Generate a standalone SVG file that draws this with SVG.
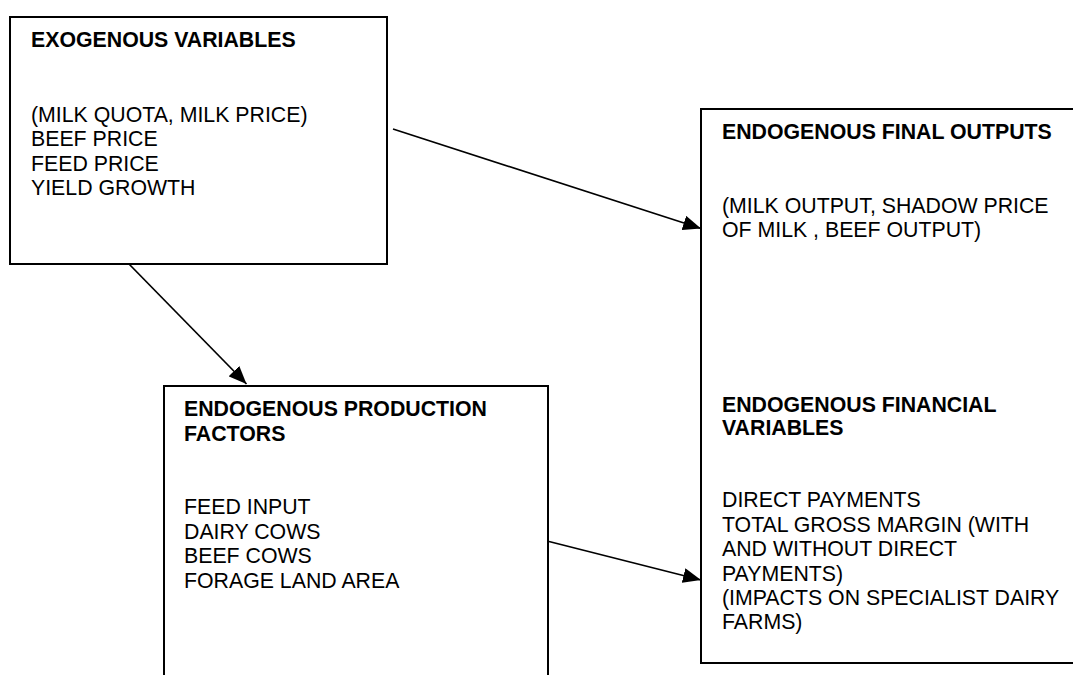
<svg xmlns="http://www.w3.org/2000/svg" width="1073" height="675" viewBox="0 0 1073 675">
<style>
.box{fill:#fff;stroke:#000;stroke-width:2}
.t{font-family:"Liberation Sans",Arial,sans-serif;font-size:21.3px;fill:#000}
.b{font-weight:bold}
.c{stroke:#000;stroke-width:1.7;fill:none;marker-end:url(#ah)}
</style>
<defs>
<marker id="ah" markerUnits="userSpaceOnUse" markerWidth="18" markerHeight="15" refX="18" refY="7.5" orient="auto">
<path d="M0,0 L18,7.5 L0,15 Z" fill="#000"/>
</marker>
</defs>
<rect width="1073" height="675" fill="#fff"/>
<g id="exogenous">
<rect class="box" x="10" y="17" width="377" height="247"/>
<text class="t b" x="31" y="47">EXOGENOUS VARIABLES</text>
<text class="t" x="31" y="121.5">(MILK QUOTA, MILK PRICE)</text>
<text class="t" x="31" y="146">BEEF PRICE</text>
<text class="t" x="31" y="170.5">FEED PRICE</text>
<text class="t" x="31" y="195">YIELD GROWTH</text>
</g>
<g id="endogenous-outputs">
<rect class="box" x="701" y="109" width="390" height="554"/>
<text class="t b" x="722" y="139">ENDOGENOUS FINAL OUTPUTS</text>
<text class="t" x="722" y="213">(MILK OUTPUT, SHADOW PRICE</text>
<text class="t" x="722" y="237">OF MILK , BEEF OUTPUT)</text>
<text class="t b" x="722" y="412">ENDOGENOUS FINANCIAL</text>
<text class="t b" x="722" y="435">VARIABLES</text>
<text class="t" x="722" y="507">DIRECT PAYMENTS</text>
<text class="t" x="722" y="531.5">TOTAL GROSS MARGIN (WITH</text>
<text class="t" x="722" y="556">AND WITHOUT DIRECT</text>
<text class="t" x="722" y="580.5">PAYMENTS)</text>
<text class="t" x="722" y="605">(IMPACTS ON SPECIALIST DAIRY</text>
<text class="t" x="722" y="629">FARMS)</text>
</g>
<g id="production-factors">
<rect class="box" x="164" y="386" width="384" height="310"/>
<text class="t b" x="184" y="416">ENDOGENOUS PRODUCTION</text>
<text class="t b" x="184" y="440.5">FACTORS</text>
<text class="t" x="184" y="514">FEED INPUT</text>
<text class="t" x="184" y="538.5">DAIRY COWS</text>
<text class="t" x="184" y="563">BEEF COWS</text>
<text class="t" x="184" y="587.5">FORAGE LAND AREA</text>
</g>
<g id="connectors">
<line class="c" x1="393" y1="129" x2="701" y2="228.5"/>
<line class="c" x1="129" y1="264" x2="246.5" y2="384"/>
<line class="c" x1="549" y1="541.5" x2="701" y2="580"/>
</g>
</svg>
